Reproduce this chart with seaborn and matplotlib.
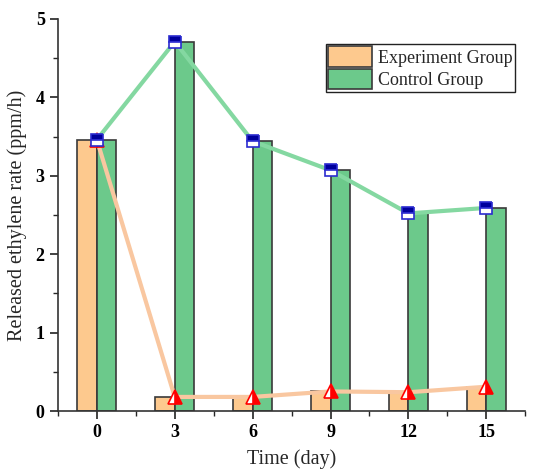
import matplotlib
matplotlib.use("Agg")
import matplotlib.pyplot as plt
import numpy as np
import pandas as pd
import seaborn as sns

# ------------------------------------------------------------------------------
# Data
# ------------------------------------------------------------------------------

days = [0, 3, 6, 9, 12, 15]
experiment_rate = [3.46, 0.18, 0.18, 0.25, 0.24, 0.31]
control_rate = [3.46, 4.71, 3.44, 3.07, 2.52, 2.59]
groups = ["Experiment Group", "Control Group"]

df = pd.DataFrame({
    "day": days * 2,
    "rate": experiment_rate + control_rate,
    "group": [groups[0]] * len(days) + [groups[1]] * len(days),
})

# ------------------------------------------------------------------------------
# Plot
# ------------------------------------------------------------------------------

sns.set_style("ticks")
plt.rcParams["font.family"] = ["Liberation Serif", "DejaVu Serif"]

bar_colors = {groups[0]: "#fdc98e", groups[1]: "#6cc98b"}

fig = plt.figure(figsize=(5.36, 4.73), dpi=100)
ax = fig.add_axes([0.108, 0.131, 0.872, 0.829])

sns.barplot(
    data=df,
    x="day",
    y="rate",
    hue="group",
    hue_order=groups,
    palette=bar_colors,
    saturation=1,
    native_scale=True,
    width=0.5,
    edgecolor="#3a3a3a",
    linewidth=1.2,
    errorbar=None,
    ax=ax,
)

# ===== Trend lines =====
sns.lineplot(x=days, y=experiment_rate, color="#f9c7a0", linewidth=3,
             legend=False, ax=ax, zorder=4)
sns.lineplot(x=days, y=control_rate, color="#84d8a1", linewidth=3,
             legend=False, ax=ax, zorder=4)

ax.plot(
    days, experiment_rate,
    linestyle="none", marker="^", markersize=10,
    fillstyle="right", markerfacecolor="#ff0000",
    markerfacecoloralt="white", markeredgecolor="#ff0000",
    markeredgewidth=1.2, zorder=5
)
ax.plot(
    days, control_rate,
    linestyle="none", marker="s", markersize=9,
    fillstyle="top", markerfacecolor="#00009c",
    markerfacecoloralt="white", markeredgecolor="#2b2bd0",
    markeredgewidth=1.2, zorder=6
)

# ===== Axes =====
ax.set_xlim(-1.48, 16.25)
ax.set_ylim(0, 5)
ax.set_xticks(days)
ax.set_xticks([d + 1.5 for d in [-3] + days], minor=True)
ax.set_yticks(range(6))
ax.set_yticks(np.arange(0.5, 5, 1.0), minor=True)
ax.tick_params(axis="both", which="major", direction="out", length=6,
               width=1.2, labelsize=13, colors="#222222")
ax.tick_params(axis="both", which="minor", direction="out", length=3.5,
               width=1.0)
for label in ax.get_xticklabels() + ax.get_yticklabels():
    label.set_fontweight("bold")
    label.set_color("black")

sns.despine(ax=ax)
for side in ["left", "bottom"]:
    ax.spines[side].set_linewidth(1.2)
    ax.spines[side].set_color("#333333")

ax.set_xlabel("Time (day)", fontsize=14.5, labelpad=6)
ax.set_ylabel("Released ethylene rate (ppm/h)", fontsize=14.5, labelpad=6)

ax.legend(
    loc="upper right",
    bbox_to_anchor=(0.985, 0.945),
    fontsize=13,
    frameon=True,
    fancybox=False,
    edgecolor="#222222",
    framealpha=1,
    borderpad=0.12,
    handlelength=2.4,
    handleheight=1.4,
    handletextpad=0.35,
    labelspacing=0.08,
    borderaxespad=0.2,
    title=None,
)

fig.savefig("out.png", dpi=100)
